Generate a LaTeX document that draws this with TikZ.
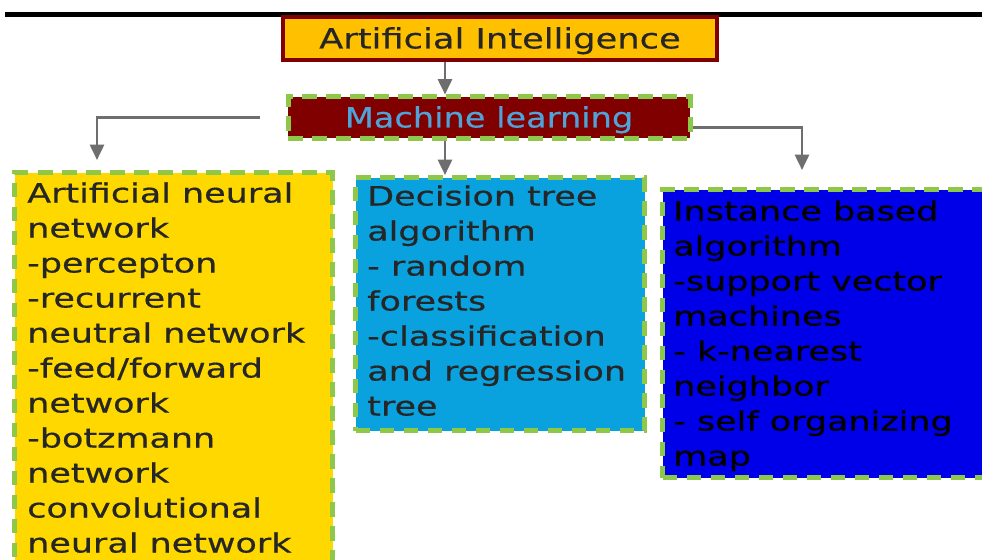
\documentclass[tikz,border=0pt]{standalone}
\usepackage{fontspec}
\usetikzlibrary{arrows.meta,calc}
\newfontfamily\hand{DejaVu Sans}[FakeStretch=1.31,FakeBold=0.6]
\newfontfamily\handt{DejaVu Sans}[FakeStretch=1.26,FakeBold=0.4]
\newfontfamily\handm{DejaVu Sans}[FakeStretch=1.2,FakeBold=0.4]
\definecolor{aifill}{HTML}{FFC000}
\definecolor{darkred}{HTML}{800000}
\definecolor{mltext}{HTML}{4FA3D9}
\definecolor{yel}{HTML}{FFD800}
\definecolor{cyanb}{HTML}{0AA2DE}
\definecolor{dblue}{HTML}{0000E8}
\definecolor{dgreen}{HTML}{8DC84A}
\definecolor{arrgray}{HTML}{6E6E6E}
\definecolor{txt}{HTML}{262626}
\tikzset{
  dgbox/.style={draw=dgreen, line width=3.75pt, dash pattern=on 11pt off 7pt, inner sep=0pt},
  arr/.style={draw=arrgray, line width=2pt, -{Triangle[width=10.5pt,length=11.5pt]}},
  boxtext/.style={anchor=north west, inner sep=0pt, align=left, text=txt, font=\fontsize{20}{26.25}\selectfont\hand},
}
\begin{document}
\begin{tikzpicture}[x=0.75pt,y=-0.75pt]
\useasboundingbox (0,0) rectangle (982,560);
\clip (0,0) rectangle (982,560);
\fill[white] (0,0) rectangle (982,560);
\draw[line width=3.75pt] (5,15) -- (982,15);
\node[draw=darkred, fill=aifill, line width=3pt, minimum width=325.5pt, minimum height=32.25pt, inner sep=0pt,
      text=txt, text depth=1pt, font=\fontsize{21}{24}\selectfont\handt] (ai) at (500,38.5) {Artificial Intelligence};
\node[dgbox, fill=darkred, minimum width=301.5pt, minimum height=30.75pt, text depth=1pt,
      text=mltext, font=\fontsize{21}{24}\selectfont\handm] (ml) at (489,117.5) {Machine learning};
\node[dgbox, fill=yel, minimum width=238.5pt, minimum height=307.5pt, anchor=north west] (ann) at (12,170) {};
\node[dgbox, fill=cyanb, minimum width=216.75pt, minimum height=189.75pt, anchor=north west] (dt) at (353,175) {};
\node[dgbox, fill=dblue, minimum width=247.5pt, minimum height=216pt, anchor=north west] (ib) at (660,187) {};
\node[boxtext] (anntext) at ($(ann.north west)+(15,12)$) {Artificial neural\\network\\-percepton\\-recurrent\\neutral network\\-feed/forward\\network\\-botzmann\\network\\convolutional\\neural network};
\node[boxtext] (dttext) at ($(dt.north west)+(14,10)$) {Decision tree\\algorithm\\- random\\forests\\-classification\\and regression\\tree};
\node[boxtext, text=black] (ibtext) at ($(ib.north west)+(13,13)$) {Instance based\\algorithm\\-support vector\\machines\\- k-nearest\\neighbor\\- self organizing\\map};
\draw[arr] (ai.south -| 445,0) -- (ml.north -| 445,0);
\draw[arr] ($(ml.west)+(-26,0)$) -| ($(ann.north west)+(85,-10)$);
\draw[arr] (ml.south -| 445,0) -- (dt.north -| 445,0);
\draw[arr] ($(ml.east)+(0,10)$) -| ($(ib.north west)+(142,-17)$);
\end{tikzpicture}
\end{document}
